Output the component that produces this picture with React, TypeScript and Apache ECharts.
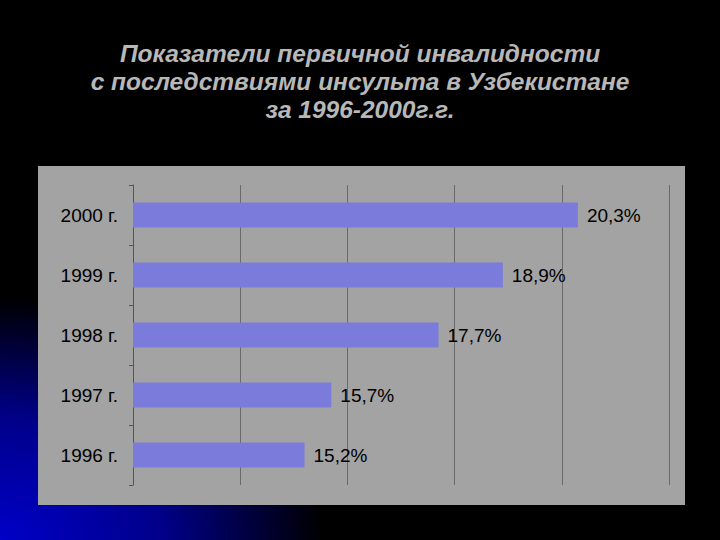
import React, { useEffect, useRef } from "react";
import * as echarts from "echarts";

const titleLines = [
  "Показатели первичной инвалидности",
  "с последствиями инсульта в Узбекистане",
  "за 1996-2000г.г.",
];
const categories = ["1996 г.", "1997 г.", "1998 г.", "1999 г.", "2000 г."];
const values = [15.2, 15.7, 17.7, 18.9, 20.3];
const axisMin = 12;
const axisMax = 22;
const axisStep = 2;

export default function App() {
  const ref = useRef<HTMLDivElement>(null);
  useEffect(() => {
    if (!ref.current) return;
    const chart = echarts.init(ref.current, null, { renderer: "svg" });
    chart.setOption({
      animation: false,
      backgroundColor: "#000",
      title: {
        text: titleLines.join("\n"),
        left: 355,
        textAlign: "center",
        top: 34,
        textStyle: {
          color: "#b8b8b8",
          fontFamily: "Liberation Sans, Arial, sans-serif",
          fontStyle: "italic",
          fontWeight: "bold",
          fontSize: 24.5,
          lineHeight: 28,
        },
      },
      graphic: [
        {
          type: "rect",
          z: -20,
          silent: true,
          shape: { x: 0, y: 0, width: 720, height: 540 },
          style: {
            fill: {
              type: "radial",
              x: 0,
              y: 1,
              r: 0.45,
              colorStops: [
                { offset: 0, color: "#0000c8" },
                { offset: 0.5, color: "#00008a" },
                { offset: 1, color: "#000000" },
              ],
            },
          },
        },
        {
          type: "rect",
          z: -10,
          silent: true,
          shape: { x: 38, y: 166, width: 647, height: 339 },
          style: { fill: "#a3a3a3" },
        },
      ],
      grid: { left: 133, right: 51, top: 185, bottom: 55 },
      xAxis: {
        type: "value",
        min: axisMin,
        max: axisMax,
        interval: axisStep,
        axisLabel: { show: false },
        axisLine: { show: false },
        axisTick: { show: false },
        splitLine: { show: true, lineStyle: { color: "#6a6a6a", width: 1 } },
      },
      yAxis: {
        type: "category",
        data: categories,
        axisLine: { show: true, lineStyle: { color: "#555", width: 1 } },
        axisTick: { show: true, length: 4, lineStyle: { color: "#555" } },
        axisLabel: {
          color: "#000",
          fontSize: 19,
          margin: 15,
          fontFamily: "Liberation Sans, Arial, sans-serif",
        },
      },
      series: [
        {
          type: "bar",
          data: values,
          barWidth: 25,
          itemStyle: { color: "#7b7bdb" },
          label: {
            show: true,
            position: "right",
            distance: 9,
            color: "#000",
            fontSize: 19,
            fontFamily: "Liberation Sans, Arial, sans-serif",
            formatter: (p: any) => String(p.value).replace(".", ",") + "%",
          },
        },
      ],
    });
    return () => chart.dispose();
  }, []);
  return (
    <div
      ref={ref}
      style={{ position: "fixed", left: 0, top: 0, width: 720, height: 540 }}
    />
  );
}
